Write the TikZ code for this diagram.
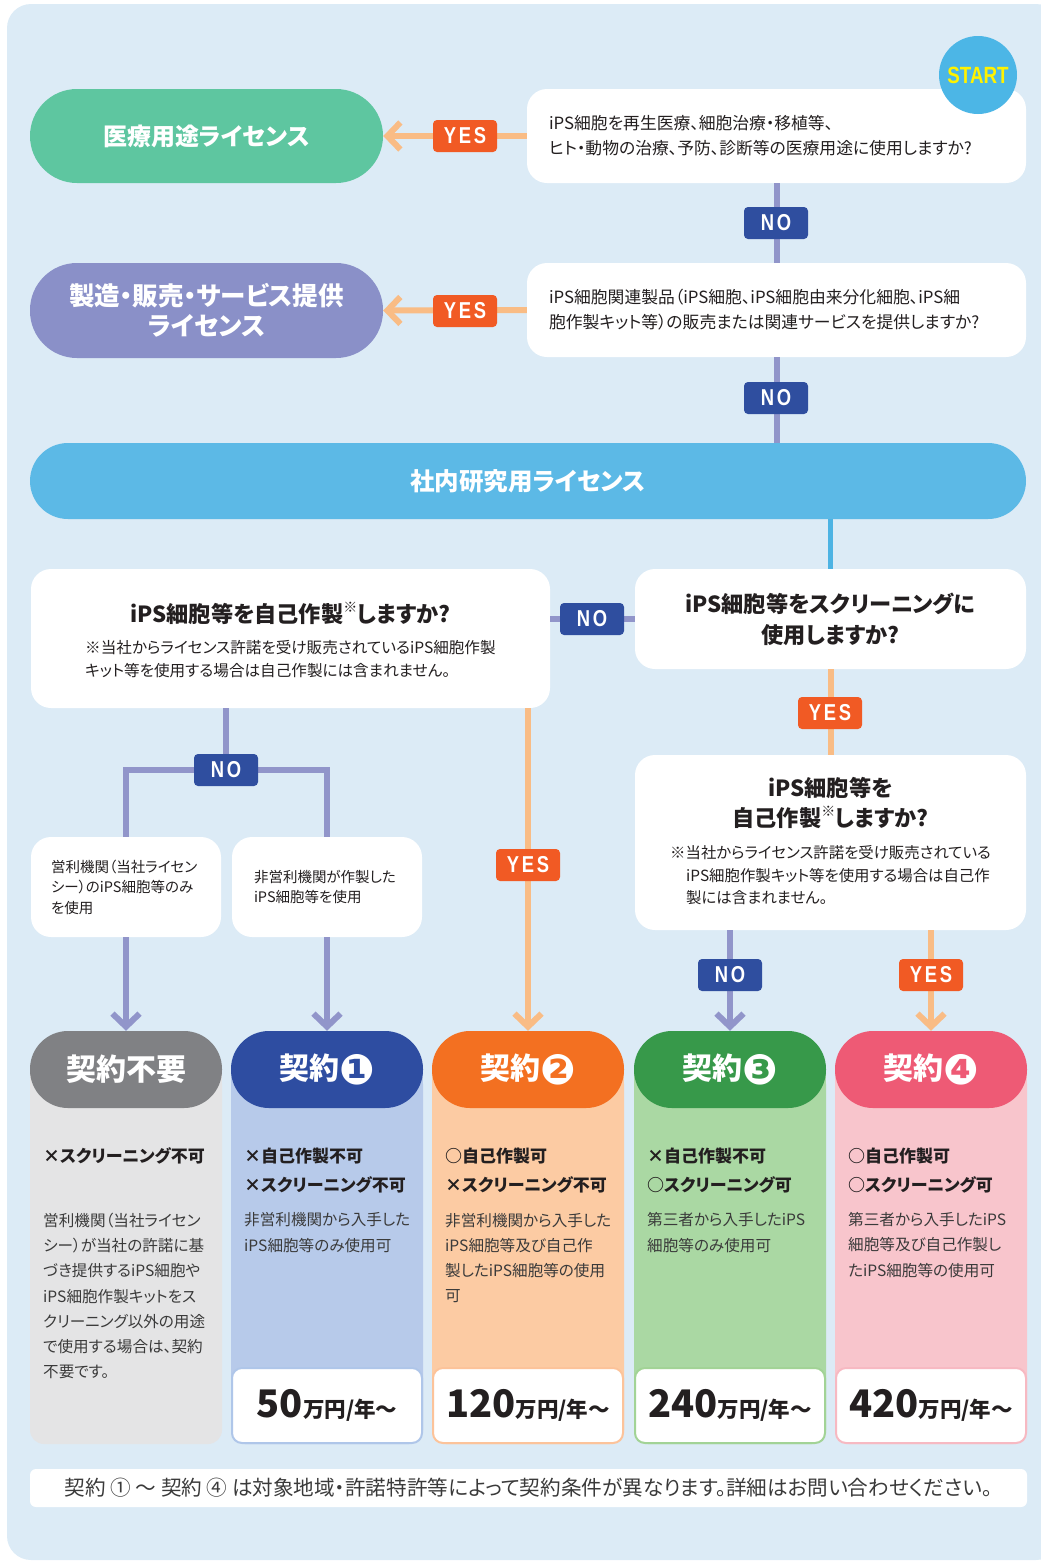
\documentclass[tikz,border=0pt]{standalone}
\usepackage{fontspec}
\setmainfont{Noto Sans CJK JP}[RawFeature=+palt]
\newfontfamily\badgefont{Liberation Sans}[FakeStretch=0.8,LetterSpace=12]
\newfontfamily\startfont{Liberation Sans}[FakeStretch=0.8]
\newfontfamily\dvfont{DejaVu Sans}
\usetikzlibrary{arrows.meta}
\definecolor{bgc}{HTML}{DCEBF6}
\definecolor{medc}{HTML}{5EC6A0}
\definecolor{prodc}{HTML}{8A90C8}
\definecolor{mainc}{HTML}{5CB9E6}
\definecolor{startc}{HTML}{4CB6E6}
\definecolor{startt}{HTML}{FFF200}
\definecolor{yesc}{HTML}{F15A24}
\definecolor{noc}{HTML}{2F4E9F}
\definecolor{plc}{HTML}{9195CA}
\definecolor{olc}{HTML}{F9BC85}
\definecolor{blc}{HTML}{4DB3E3}
\definecolor{dark}{HTML}{231F20}
\definecolor{bodyt}{HTML}{3A3A3A}
\definecolor{h0}{HTML}{808184}
\definecolor{h1}{HTML}{2E4DA1}
\definecolor{h2}{HTML}{F37021}
\definecolor{h3}{HTML}{37994A}
\definecolor{h4}{HTML}{EE5A75}
\definecolor{b0}{HTML}{E4E4E5}
\definecolor{b1}{HTML}{B7CAEA}
\definecolor{b2}{HTML}{FCCBA3}
\definecolor{b3}{HTML}{AAD8A3}
\definecolor{b4}{HTML}{F8C5CC}
\definecolor{r1}{HTML}{AFC6E9}
\definecolor{r2}{HTML}{FCC39A}
\definecolor{r3}{HTML}{A2D396}
\definecolor{r4}{HTML}{F7B9C2}
\newcommand\cnum[1]{\raisebox{-4.5pt}{\dvfont\bfseries\fontsize{42}{42}\selectfont #1}}
\begin{document}
\begin{tikzpicture}[x=1pt,y=-1pt,
  qbox/.style={fill=white, rounded corners=20pt, inner sep=0pt},
  pillbox/.style={text=white, font=\bfseries\fontsize{24}{30}\selectfont, align=center, inner sep=0pt},
  badge/.style={rounded corners=4pt, minimum width=64pt, minimum height=32pt, inner sep=0pt, text=white, font=\badgefont\bfseries\fontsize{23}{23}\selectfont},
  yesb/.style={badge, fill=yesc},
  nob/.style={badge, fill=noc},
  pline/.style={draw=plc, line width=6pt},
  oline/.style={draw=olc, line width=6pt},
  bline/.style={draw=blc, line width=5pt},
  arr/.style={-{Straight Barb[length=13pt,width=27pt]}},
  hdr/.style={minimum width=192pt, minimum height=77pt, rounded corners=38pt, inner sep=0pt, text=white, font=\bfseries\fontsize{30}{30}\selectfont},
  pricebox/.style={fill=white, line width=2pt, rounded corners=10pt, minimum width=190pt, minimum height=75pt, inner sep=0pt, text=dark},
  boldl/.style={anchor=west, inner sep=0pt, align=left, text=dark, font=\bfseries\fontsize{17}{29}\selectfont},
  norml/.style={anchor=west, inner sep=0pt, align=left, text=bodyt, font=\fontsize{15.6}{25.3}\selectfont},
  qtext/.style={align=left, text=dark, inner sep=0pt},
]
\useasboundingbox (0,0) rectangle (1041,1561);
\fill[bgc, rounded corners=24pt] (7,4) rectangle (1060,1560);

% ---- top question boxes and pills
\node[qbox, minimum height=94pt, text width=455pt, inner xsep=22pt, align=left, text=dark,
      font=\fontsize{16.8}{25}\selectfont] (q1) at (776.5,136)
  {iPS細胞を再生医療、細胞治療・移植等、\\ヒト・動物の治療、予防、診断等の医療用途に使用しますか?};
\node[qbox, minimum height=94pt, text width=455pt, inner xsep=22pt, align=left, text=dark,
      font=\fontsize{16.8}{25}\selectfont] (q2) at (776.5,310)
  {iPS細胞関連製品（iPS細胞、iPS細胞由来分化細胞、iPS細\\胞作製キット等）の販売または関連サービスを提供しますか?};
\node[circle, fill=startc, minimum size=78pt, inner sep=0pt, text=startt,
      font=\startfont\bfseries\fontsize{23.5}{23.5}\selectfont] (start) at (978,75) {START};

\node[pillbox, fill=medc, minimum width=353pt, minimum height=94pt, rounded corners=47pt] (med) at (206.5,136) {医療用途ライセンス};
\node[pillbox, fill=prodc, minimum width=353pt, minimum height=95pt, rounded corners=47pt,
      font=\bfseries\fontsize{25.5}{30}\selectfont] (prod) at (206.5,310.5) {製造・販売・サービス提供\\ライセンス};
\node[pillbox, fill=mainc, minimum width=996pt, minimum height=76pt, rounded corners=38pt,
      font=\bfseries\fontsize{24.5}{24.5}\selectfont] (main) at (528,481) {社内研究用ライセンス};

% ---- middle boxes
\node[qbox, minimum width=519pt, minimum height=139pt] (qa) at (290.5,638.5) {};
\node[text=dark, inner sep=0pt, font=\bfseries\fontsize{22.2}{24}\selectfont] (qat) at (290.5,613)
  {iPS細胞等を自己作製\raisebox{.45em}{\mdseries\fontsize{14}{14}\selectfont ※}しますか?};
\node[qtext, anchor=west, font=\fontsize{15.6}{23}\selectfont] (qan) at (85,659.5)
  {※当社からライセンス許諾を受け販売されているiPS細胞作製\\キット等を使用する場合は自己作製には含まれません。};

\node[qbox, minimum width=391pt, minimum height=100pt, align=center, text=dark,
      font=\bfseries\fontsize{22.2}{31}\selectfont] (qb) at (830.5,619) {iPS細胞等をスクリーニングに\\使用しますか?};

\node[qbox, minimum width=391pt, minimum height=175pt] (qc) at (830.5,842.5) {};
\node[align=center, text=dark, inner sep=0pt, font=\bfseries\fontsize{22.2}{30}\selectfont] (qct) at (830.5,803)
  {iPS細胞等を\\自己作製\raisebox{.45em}{\mdseries\fontsize{14}{14}\selectfont ※}しますか?};
\node[qtext, anchor=west, font=\fontsize{15.4}{22.5}\selectfont] (qcn) at (670,875.5)
  {※当社からライセンス許諾を受け販売されている\\\hspace*{16pt}iPS細胞作製キット等を使用する場合は自己作\\\hspace*{16pt}製には含まれません。};

\node[qbox, minimum height=100pt, text width=150pt, inner xsep=20pt, align=left, text=dark,
      font=\fontsize{14.5}{20.5}\selectfont] (qd) at (126,887)
  {営利機関（当社ライセン\\シー）のiPS細胞等のみ\\を使用};
\node[qbox, minimum height=100pt, text width=150pt, inner xsep=20pt, align=left, text=dark,
      font=\fontsize{14.5}{20.5}\selectfont] (qe) at (327,887)
  {\hspace*{2pt}非営利機関が作製した\\\hspace*{2pt}iPS細胞等を使用};

% ---- contract columns
\fill[b0, rounded corners=14pt] (30,1070) rectangle (222,1444);
\fill[b0] (30,1070) rectangle (222,1110);
\fill[b1, rounded corners=14pt] (231,1070) rectangle (423,1444);
\fill[b1] (231,1070) rectangle (423,1110);
\fill[b2, rounded corners=14pt] (432,1070) rectangle (624,1444);
\fill[b2] (432,1070) rectangle (624,1110);
\fill[b3, rounded corners=14pt] (634,1070) rectangle (826,1444);
\fill[b3] (634,1070) rectangle (826,1110);
\fill[b4, rounded corners=14pt] (835,1070) rectangle (1027,1444);
\fill[b4] (835,1070) rectangle (1027,1110);

\node[hdr, fill=h0] (k0) at (126,1069.5) {契約不要};
\node[hdr, fill=h1] (k1) at (327,1069.5) {契約\cnum{❶}};
\node[hdr, fill=h2] (k2) at (528,1069.5) {契約\cnum{❷}};
\node[hdr, fill=h3] (k3) at (730,1069.5) {契約\cnum{❸}};
\node[hdr, fill=h4] (k4) at (931,1069.5) {契約\cnum{❹}};

\node[boldl] (k0a) at (43,1156) {×スクリーニング不可};
\node[norml] (k0b) at (43,1296) {営利機関（当社ライセン\\シー）が当社の許諾に基\\づき提供するiPS細胞や\\iPS細胞作製キットをス\\クリーニング以外の用途\\で使用する場合は、契約\\不要です。};

\node[boldl] (k1a) at (244,1170.5) {×自己作製不可\\×スクリーニング不可};
\node[norml] (k1b) at (244,1232.5) {非営利機関から入手した\\iPS細胞等のみ使用可};
\node[pricebox, draw=r1] (p1) at (327,1405.5) {{\bfseries\fontsize{38}{38}\selectfont 50}{\bfseries\fontsize{21.5}{21.5}\selectfont 万円/年～}};

\node[boldl] (k2a) at (445,1170.5) {○自己作製可\\×スクリーニング不可};
\node[norml] (k2b) at (445,1258) {非営利機関から入手した\\iPS細胞等及び自己作\\製したiPS細胞等の使用\\可};
\node[pricebox, draw=r2] (p2) at (528,1405.5) {{\bfseries\fontsize{38}{38}\selectfont 120}{\bfseries\fontsize{21.5}{21.5}\selectfont 万円/年～}};

\node[boldl] (k3a) at (647,1170.5) {×自己作製不可\\○スクリーニング可};
\node[norml] (k3b) at (647,1232.5) {第三者から入手したiPS\\細胞等のみ使用可};
\node[pricebox, draw=r3] (p3) at (730,1405.5) {{\bfseries\fontsize{38}{38}\selectfont 240}{\bfseries\fontsize{21.5}{21.5}\selectfont 万円/年～}};

\node[boldl] (k4a) at (848,1170.5) {○自己作製可\\○スクリーニング可};
\node[norml] (k4b) at (848,1245) {第三者から入手したiPS\\細胞等及び自己作製し\\たiPS細胞等の使用可};
\node[pricebox, draw=r4] (p4) at (931,1405.5) {{\bfseries\fontsize{38}{38}\selectfont 420}{\bfseries\fontsize{21.5}{21.5}\selectfont 万円/年～}};

% ---- footer
\node[fill=white, rounded corners=6pt, minimum width=997pt, minimum height=38pt, inner sep=0pt,
      text=bodyt, font=\fontsize{20.6}{20.6}\selectfont] (foot) at (528.5,1488)
  {契約 ① ～ 契約 ④ は対象地域・許諾特許等によって契約条件が異なります。詳細はお問い合わせください。};

% ---- connectors
\draw[oline,arr] (q1.west) -- (med.east);
\draw[oline,arr] (q2.west) -- (prod.east);
\draw[pline] (q1.south) -- (q2.north);
\draw[pline] (q2.south) -- (q2.south |- main.north);
\draw[bline] (qb.north |- main.south) -- (qb.north);
\draw[pline] (qb.west) -- (qb.west -| qa.east);
\draw[oline] (qb.south) -- (qc.north);
\coordinate (br) at (226,770);
\draw[pline] (qa.south -| br) -- (br);
\draw[pline] (qd.north) -- (qd.north |- br) -- (qe.north |- br) -- (qe.north);
\draw[pline,arr] (qd.south) -- (k0.north);
\draw[pline,arr] (qe.south) -- (k1.north);
\draw[oline,arr] (qa.south -| k2.north) -- (k2.north);
\draw[pline,arr] (qc.south -| k3.north) -- (k3.north);
\draw[oline,arr] (qc.south -| k4.north) -- (k4.north);

% ---- badges
\node[yesb] (y1) at (465,136) {YES};
\node[yesb] (y2) at (465,311) {YES};
\node[nob] (n1) at (776,223) {NO};
\node[nob] (n2) at (776,398) {NO};
\node[nob] (n3) at (592,619) {NO};
\node[yesb] (y3) at (830,713) {YES};
\node[nob] (n4) at (226,770) {NO};
\node[yesb] (y4) at (528,865) {YES};
\node[nob] (n5) at (730,975) {NO};
\node[yesb] (y5) at (931,975) {YES};
\end{tikzpicture}
\end{document}
